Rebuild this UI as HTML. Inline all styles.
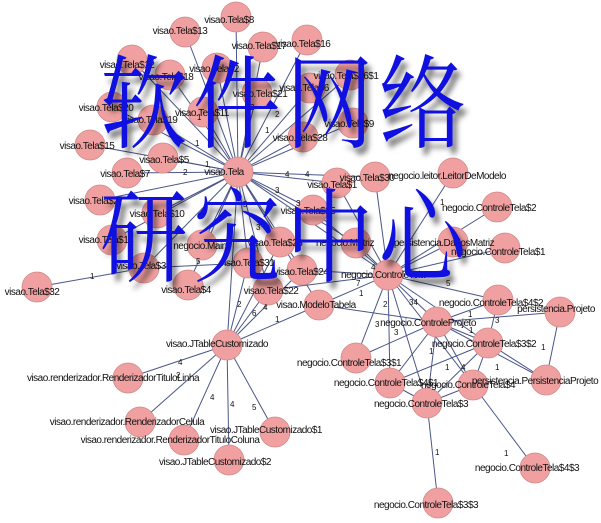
<!DOCTYPE html>
<html><head><meta charset="utf-8"><style>
html,body{margin:0;padding:0;background:#fff;width:601px;height:523px;overflow:hidden}
svg{position:absolute;left:0;top:0}
.l{font-family:"Liberation Sans",sans-serif;font-size:10px;fill:#111;text-anchor:middle;letter-spacing:-0.5px}
.n{font-family:"Liberation Sans",sans-serif;font-size:8px;fill:#111}
.big{position:absolute;font-family:"Noto Serif CJK SC","Liberation Serif",serif;color:#1010e0;font-size:102px;font-weight:normal;line-height:1;text-shadow:5px 7px 6px rgba(0,0,0,0.5);white-space:nowrap;letter-spacing:6px;transform:scaleX(0.86);transform-origin:0 0}
</style></head><body>
<svg width="601" height="523" viewBox="0 0 601 523">
<g stroke="#4a5688" stroke-width="1" fill="none">
<line x1="238" y1="172" x2="236" y2="17"/><line x1="238" y1="172" x2="185" y2="32"/><line x1="238" y1="172" x2="263" y2="47"/><line x1="238" y1="172" x2="307" y2="40"/><line x1="238" y1="172" x2="132" y2="60"/><line x1="238" y1="172" x2="170" y2="75"/><line x1="238" y1="172" x2="217" y2="68"/><line x1="238" y1="172" x2="257" y2="93"/><line x1="238" y1="172" x2="310" y2="88"/><line x1="238" y1="172" x2="350" y2="75"/><line x1="238" y1="172" x2="353" y2="123"/><line x1="238" y1="172" x2="303" y2="137"/><line x1="238" y1="172" x2="112" y2="107"/><line x1="238" y1="172" x2="153" y2="120"/><line x1="238" y1="172" x2="203" y2="112"/><line x1="238" y1="172" x2="90" y2="145"/><line x1="238" y1="172" x2="163" y2="158"/><line x1="238" y1="172" x2="127" y2="173"/><line x1="238" y1="172" x2="100" y2="200"/><line x1="238" y1="172" x2="157" y2="213"/><line x1="238" y1="172" x2="112" y2="240"/><line x1="238" y1="172" x2="202" y2="245"/><line x1="238" y1="172" x2="280" y2="242"/><line x1="238" y1="172" x2="144" y2="268"/><line x1="238" y1="172" x2="248" y2="263"/><line x1="238" y1="172" x2="302" y2="270"/><line x1="238" y1="172" x2="268" y2="290"/><line x1="238" y1="172" x2="319" y2="305"/><line x1="238" y1="172" x2="388" y2="275"/><line x1="238" y1="172" x2="227" y2="345"/><line x1="238" y1="172" x2="337" y2="183"/><line x1="238" y1="172" x2="375" y2="177"/><line x1="238" y1="172" x2="313" y2="210"/><line x1="238" y1="172" x2="356" y2="243"/><line x1="238" y1="172" x2="188" y2="285"/>
<line x1="37" y1="287" x2="144" y2="268"/><line x1="144" y1="268" x2="248" y2="263"/>
<line x1="227" y1="345" x2="128" y2="378"/><line x1="227" y1="345" x2="140" y2="422"/><line x1="227" y1="345" x2="184" y2="440"/><line x1="227" y1="345" x2="275" y2="432"/><line x1="227" y1="345" x2="229" y2="460"/><line x1="227" y1="345" x2="248" y2="263"/><line x1="227" y1="345" x2="268" y2="290"/><line x1="227" y1="345" x2="302" y2="270"/><line x1="227" y1="345" x2="319" y2="305"/><line x1="227" y1="345" x2="280" y2="242"/>
<line x1="388" y1="275" x2="375" y2="177"/><line x1="388" y1="275" x2="453" y2="173"/><line x1="388" y1="275" x2="356" y2="243"/><line x1="388" y1="275" x2="453" y2="242"/><line x1="388" y1="275" x2="505" y2="248"/><line x1="388" y1="275" x2="497" y2="207"/><line x1="388" y1="275" x2="313" y2="210"/><line x1="388" y1="275" x2="268" y2="290"/><line x1="388" y1="275" x2="319" y2="305"/><line x1="388" y1="275" x2="498" y2="300"/><line x1="388" y1="275" x2="437" y2="322"/><line x1="388" y1="275" x2="488" y2="343"/><line x1="388" y1="275" x2="356" y2="358"/><line x1="388" y1="275" x2="390" y2="383"/><line x1="388" y1="275" x2="427" y2="403"/><line x1="388" y1="275" x2="473" y2="385"/><line x1="388" y1="275" x2="302" y2="270"/><line x1="388" y1="275" x2="337" y2="183"/>
<line x1="437" y1="322" x2="319" y2="305"/><line x1="437" y1="322" x2="498" y2="300"/><line x1="437" y1="322" x2="560" y2="312"/><line x1="437" y1="322" x2="488" y2="343"/><line x1="437" y1="322" x2="356" y2="358"/><line x1="437" y1="322" x2="390" y2="383"/><line x1="437" y1="322" x2="427" y2="403"/><line x1="437" y1="322" x2="473" y2="385"/><line x1="437" y1="322" x2="546" y2="380"/>
<line x1="488" y1="343" x2="498" y2="300"/><line x1="488" y1="343" x2="546" y2="380"/><line x1="488" y1="343" x2="473" y2="385"/><line x1="488" y1="343" x2="427" y2="403"/><line x1="488" y1="343" x2="390" y2="383"/>
<line x1="560" y1="312" x2="546" y2="380"/><line x1="473" y1="385" x2="535" y2="468"/><line x1="427" y1="403" x2="438" y2="503"/><line x1="390" y1="383" x2="427" y2="403"/><line x1="427" y1="403" x2="473" y2="385"/>
</g>
<g fill="#f0a0a0" stroke="#d08a8a" stroke-width="0.8">
<circle cx="236" cy="17" r="15"/><circle cx="185" cy="32" r="15"/><circle cx="263" cy="47" r="15"/><circle cx="307" cy="40" r="15"/><circle cx="132" cy="60" r="15"/><circle cx="170" cy="75" r="15"/><circle cx="217" cy="68" r="15"/><circle cx="257" cy="93" r="15"/><circle cx="310" cy="88" r="15"/><circle cx="350" cy="75" r="15"/><circle cx="353" cy="123" r="15"/><circle cx="303" cy="137" r="15"/><circle cx="112" cy="107" r="15"/><circle cx="153" cy="120" r="15"/><circle cx="203" cy="112" r="15"/><circle cx="90" cy="145" r="15"/><circle cx="163" cy="158" r="15"/><circle cx="127" cy="173" r="15"/><circle cx="100" cy="200" r="15"/><circle cx="157" cy="213" r="15"/><circle cx="112" cy="240" r="15"/><circle cx="202" cy="245" r="15"/><circle cx="280" cy="242" r="15"/><circle cx="144" cy="268" r="15"/><circle cx="37" cy="287" r="15"/><circle cx="188" cy="285" r="15"/><circle cx="248" cy="263" r="15"/><circle cx="302" cy="270" r="15"/><circle cx="268" cy="290" r="15"/><circle cx="319" cy="305" r="15"/><circle cx="238" cy="172" r="15"/><circle cx="337" cy="183" r="15"/><circle cx="375" cy="177" r="15"/><circle cx="313" cy="210" r="15"/><circle cx="356" cy="243" r="15"/><circle cx="453" cy="173" r="15"/><circle cx="497" cy="207" r="15"/><circle cx="453" cy="242" r="15"/><circle cx="505" cy="248" r="15"/><circle cx="388" cy="275" r="15"/><circle cx="227" cy="345" r="15"/><circle cx="128" cy="378" r="15"/><circle cx="140" cy="422" r="15"/><circle cx="184" cy="440" r="15"/><circle cx="275" cy="432" r="15"/><circle cx="229" cy="460" r="15"/><circle cx="498" cy="300" r="15"/><circle cx="560" cy="312" r="15"/><circle cx="437" cy="322" r="15"/><circle cx="488" cy="343" r="15"/><circle cx="356" cy="358" r="15"/><circle cx="390" cy="383" r="15"/><circle cx="473" cy="385" r="15"/><circle cx="546" cy="380" r="15"/><circle cx="427" cy="403" r="15"/><circle cx="535" cy="468" r="15"/><circle cx="438" cy="503" r="15"/>
</g>
<g class="l">
<text x="229" y="23">visao.Tela$8</text><text x="180" y="34">visao.Tela$13</text><text x="259" y="49">visao.Tela$17</text><text x="303" y="47">visao.Tela$16</text><text x="127" y="68">visao.Tela$12</text><text x="166" y="80">visao.Tela$18</text><text x="214" y="72">visao.Tela$2</text><text x="260" y="97">visao.Tela$21</text><text x="304" y="91">visao.Tela$6</text><text x="346" y="79">visao.Tela$26$1</text><text x="349" y="127">visao.Tela$9</text><text x="300" y="141">visao.Tela$28</text><text x="106" y="111">visao.Tela$20</text><text x="150" y="123">visao.Tela$19</text><text x="202" y="116">visao.Tela$11</text><text x="87" y="149">visao.Tela$15</text><text x="164" y="163">visao.Tela$5</text><text x="125" y="177">visao.Tela$7</text><text x="96" y="204">visao.Tela$27</text><text x="157" y="217">visao.Tela$10</text><text x="106" y="243">visao.Tela$14</text><text x="200" y="249">negocio.Main</text><text x="275" y="246">visao.Tela$23</text><text x="141" y="269">visao.Tela$3</text><text x="32" y="295">visao.Tela$32</text><text x="186" y="293">visao.Tela$4</text><text x="247" y="266">visao.Tela$31</text><text x="301" y="275">visao.Tela$24</text><text x="271" y="294">visao.Tela$22</text><text x="316" y="308">visao.ModeloTabela</text><text x="224" y="175">visao.Tela</text><text x="332" y="188">visao.Tela$1</text><text x="367" y="181">visao.Tela$30</text><text x="308" y="214">visao.Tela$25</text><text x="345" y="246">negocio.Matriz</text><text x="447" y="179">negocio.leitor.LeitorDeModelo</text><text x="489" y="211">negocio.ControleTela$2</text><text x="444" y="246">persistencia.DadosMatriz</text><text x="498" y="255">negocio.ControleTela$1</text><text x="383" y="278">negocio.ControleTela</text><text x="217" y="347">visao.JTableCustomizado</text><text x="113" y="381">visao.renderizador.RenderizadorTituloLinha</text><text x="127" y="425">visao.renderizador.RenderizadorCelula</text><text x="170" y="443">visao.renderizador.RenderizadorTituloColuna</text><text x="266" y="433">visao.JTableCustomizado$1</text><text x="215" y="465">visao.JTableCustomizado$2</text><text x="491" y="306">negocio.ControleTela$4$2</text><text x="556" y="312">persistencia.Projeto</text><text x="428" y="326">negocio.ControleProjeto</text><text x="484" y="347">negocio.ControleTela$3$2</text><text x="349" y="366">negocio.ControleTela$3$1</text><text x="386" y="386">negocio.ControleTela$4$1</text><text x="468" y="388">negocio.ControleTela$4</text><text x="535" y="384">persistencia.PersistenciaProjeto</text><text x="421" y="407">negocio.ControleTela$3</text><text x="527" y="471">negocio.ControleTela$4$3</text><text x="426" y="508">negocio.ControleTela$3$3</text>
</g>
<g class="n">
<text x="285" y="177">4</text><text x="305" y="177">4</text><text x="275" y="193">3</text><text x="296" y="206">3</text><text x="243" y="207">5</text><text x="256" y="230">3</text><text x="90" y="279">1</text><text x="196" y="264">5</text><text x="197" y="120">1</text><text x="195" y="146">1</text><text x="205" y="167">1</text><text x="183" y="175">2</text><text x="265" y="133">1</text><text x="275" y="117">2</text><text x="250" y="110">2</text><text x="237" y="307">2</text><text x="252" y="316">6</text><text x="263" y="310">4</text><text x="275" y="322">1</text><text x="176" y="378">2</text><text x="210" y="400">4</text><text x="230" y="407">4</text><text x="252" y="410">5</text><text x="178" y="365">4</text><text x="356" y="286">7</text><text x="359" y="296">1</text><text x="383" y="307">2</text><text x="375" y="327">3</text><text x="394" y="335">3</text><text x="409" y="305">34</text><text x="446" y="286">5</text><text x="468" y="317">1</text><text x="495" y="323">3</text><text x="469" y="333">1</text><text x="429" y="354">1</text><text x="445" y="370">1</text><text x="461" y="370">4</text><text x="495" y="370">1</text><text x="541" y="350">1</text><text x="504" y="456">1</text><text x="435" y="455">1</text><text x="371" y="270">4</text><text x="440" y="205">1</text><text x="358" y="247">1</text>
</g>
</svg>
<div class="big" style="left:100px;top:46px">软件网络</div>
<div class="big" style="left:100px;top:180px">研究中心</div>
</body></html>
